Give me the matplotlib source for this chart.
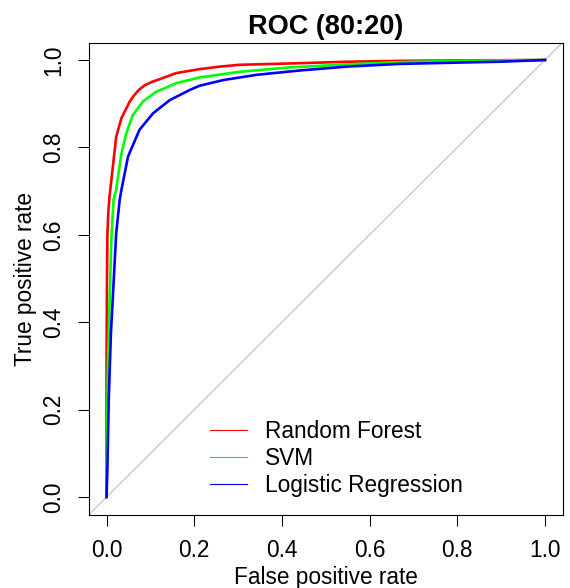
import matplotlib.pyplot as plt

plt.rcParams["font.family"] = ["Liberation Sans", "DejaVu Sans"]

# ROC curves
rf_fpr = [0.0, 0.0, 0.001, 0.002, 0.004, 0.007, 0.011, 0.022, 0.034, 0.053, 0.062, 0.073,
          0.087, 0.104, 0.121, 0.159, 0.212, 0.26, 0.304, 0.418, 0.55, 0.669, 0.8, 1.0]
rf_tpr = [0.0, 0.30, 0.50, 0.60, 0.65, 0.69, 0.725, 0.824, 0.867, 0.905, 0.918, 0.931,
          0.942, 0.950, 0.956, 0.970, 0.979, 0.985, 0.989, 0.992, 0.996, 0.998, 0.999, 1.0]

svm_fpr = [0.0, 0.001, 0.003, 0.007, 0.011, 0.016, 0.022, 0.034, 0.045, 0.060, 0.083,
           0.113, 0.159, 0.212, 0.304, 0.418, 0.55, 0.669, 0.8, 1.0]
svm_tpr = [0.0, 0.146, 0.298, 0.451, 0.59, 0.68, 0.703, 0.786, 0.832, 0.874, 0.905,
           0.927, 0.947, 0.960, 0.973, 0.983, 0.990, 0.995, 0.998, 1.0]

lr_fpr = [0.0, 0.002, 0.005, 0.010, 0.014, 0.022, 0.030, 0.034, 0.049, 0.075, 0.106,
          0.144, 0.189, 0.212, 0.266, 0.342, 0.441, 0.55, 0.669, 0.8, 0.897, 1.0]
lr_tpr = [0.0, 0.069, 0.222, 0.375, 0.451, 0.603, 0.680, 0.703, 0.779, 0.840, 0.878,
          0.908, 0.931, 0.941, 0.954, 0.966, 0.976, 0.985, 0.991, 0.994, 0.996, 1.0]

labels = ["Random Forest", "SVM", "Logistic Regression"]
colors = ["#FF0000", "#00FF00", "#0000FF"]
ticks = [0.0, 0.2, 0.4, 0.6, 0.8, 1.0]
tick_labels = ["0.0", "0.2", "0.4", "0.6", "0.8", "1.0"]

fs = 16.3

fig = plt.figure(figsize=(5.7, 5.88), dpi=100)
ax = fig.add_axes([89 / 570, 73.5 / 588, 473.5 / 570, 472 / 588])

ax.axline((0, 0), slope=1, color="#BEBEBE", lw=0.8, zorder=1)

curves = [(rf_fpr, rf_tpr), (svm_fpr, svm_tpr), (lr_fpr, lr_tpr)]
for (fpr, tpr), col in zip(curves, colors):
    ax.plot(fpr, tpr, color=col, lw=1.9, zorder=2)

# legend uses thin lines like R's legend()
handles = [plt.Line2D([], [], color=c, lw=0.8) for c in colors]
ax.legend(handles, labels, loc="upper left", bbox_to_anchor=(0.2555, 0.2),
          frameon=False, fontsize=fs, handlelength=1.64, handletextpad=0.8,
          labelspacing=0.17, borderpad=0, borderaxespad=0)

ax.set_xlim(-0.04, 1.04)
ax.set_ylim(-0.04, 1.04)
ax.set_xticks(ticks)
ax.set_xticklabels(tick_labels)
ax.set_yticks(ticks)
ax.set_yticklabels(tick_labels, rotation=90, va="center")
ax.tick_params(direction="out", length=7.9, width=0.75, labelsize=fs, pad=9.5)

for sp in ax.spines.values():
    sp.set_linewidth(0.8)
    sp.set_color("black")

ax.set_xlabel("False positive rate", fontsize=fs)
ax.set_ylabel("True positive rate", fontsize=fs)
ax.xaxis.set_label_coords(0.5, -0.109)
ax.yaxis.set_label_coords(-0.11, 0.5)
ax.set_title("ROC (80:20)", fontsize=19.5, fontweight="bold", pad=6)

fig.savefig("out.png", dpi=100)
